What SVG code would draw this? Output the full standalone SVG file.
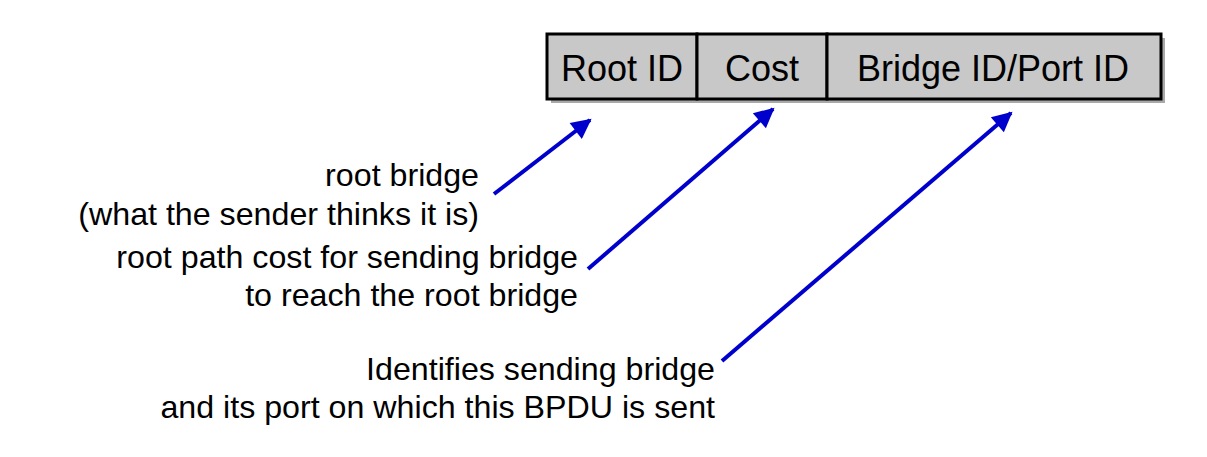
<svg xmlns="http://www.w3.org/2000/svg" width="1207" height="457" viewBox="0 0 1207 457">
<style>
.lbl{font-family:"Liberation Sans",Arial,sans-serif;font-size:32.2px;fill:#000;text-anchor:end}
.fld{font-family:"Liberation Sans",Arial,sans-serif;font-size:36px;fill:#000;text-anchor:middle}
.cell{fill:#c8c8c8;stroke:#000;stroke-width:3}
.arr{stroke:#0000cc;stroke-width:4;fill:none;marker-end:url(#ah)}
</style>
<defs>
<marker id="ah" viewBox="0 0 10 10" refX="9" refY="5" markerWidth="5.5" markerHeight="5" orient="auto" markerUnits="strokeWidth">
<path d="M0,0 L10,5 L0,10 z" fill="#0000cc"/>
</marker>
</defs>
<rect x="551" y="38" width="614" height="65" fill="#707070" opacity="0.6"/>
<g id="root-id"><rect class="cell" x="547" y="34" width="150" height="65"/><text class="fld" x="622" y="81">Root ID</text></g>
<g id="cost"><rect class="cell" x="697" y="34" width="130" height="65"/><text class="fld" x="762" y="81">Cost</text></g>
<g id="bridge-id"><rect class="cell" x="827" y="34" width="334" height="65"/><text class="fld" x="993" y="81">Bridge ID/Port ID</text></g>
<g id="lbl-root"><text class="lbl" x="479" y="186">root bridge</text><text class="lbl" x="479" y="225">(what the sender thinks it is)</text></g>
<g id="lbl-cost"><text class="lbl" x="578" y="268">root path cost for sending bridge</text><text class="lbl" x="578" y="306">to reach the root bridge</text></g>
<g id="lbl-bridge"><text class="lbl" x="715" y="380">Identifies sending bridge</text><text class="lbl" x="715" y="418">and its port on which this BPDU is sent</text></g>
<g id="connectors">
<line class="arr" x1="494" y1="194" x2="590" y2="120"/>
<line class="arr" x1="588" y1="269" x2="773" y2="109"/>
<line class="arr" x1="722" y1="361" x2="1011" y2="113"/>
</g>
</svg>
